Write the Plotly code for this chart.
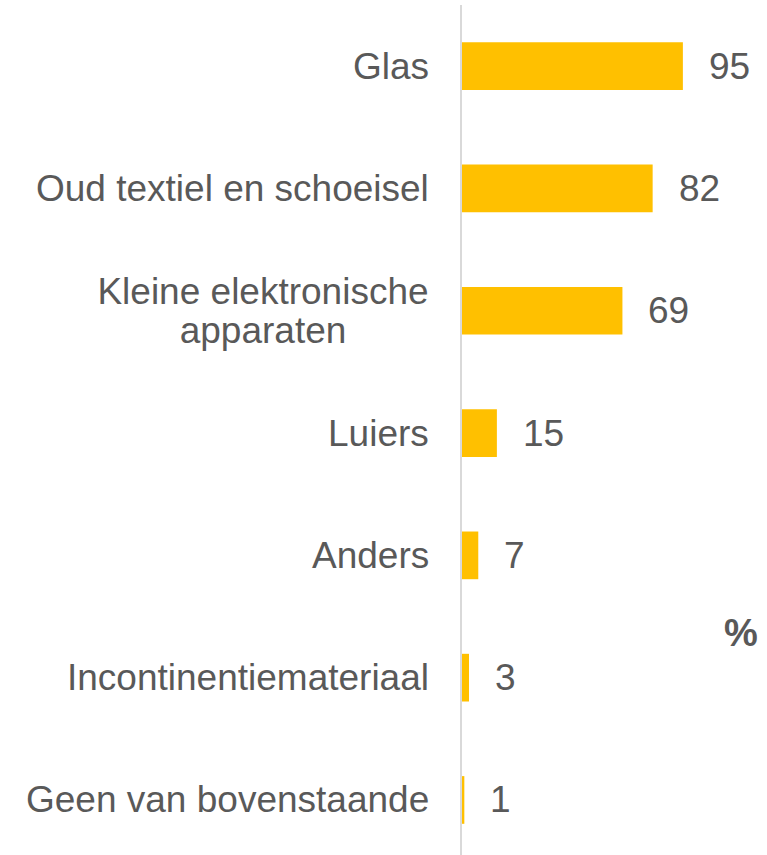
import plotly.graph_objects as go

CATEGORIES = ["Glas", "Oud textiel en schoeisel", "Kleine elektronische<br>apparaten",
              "Luiers", "Anders", "Incontinentiemateriaal", "Geen van bovenstaande"]
VALUES = [95, 82, 69, 15, 7, 3, 1]
UNIT = "%"

BAR, TEXT, AXIS = "#ffc000", "#595959", "#d9d9d9"
FONT = "Liberation Sans, Arial, sans-serif"
LINE_H = 39     # tighter line spacing than plotly's default for the wrapped label
WRAP_W = 334    # box width that the wrapped lines are centred in

fig = go.Figure(go.Bar(x=VALUES, y=CATEGORIES, orientation="h", width=0.39,
                       marker=dict(color=BAR, line_width=0), hoverinfo="skip"))

# category labels and value labels
for cat, val in zip(CATEGORIES, VALUES):
    lines = cat.split("<br>")
    if len(lines) == 1:
        fig.add_annotation(x=0, y=cat, text=cat, showarrow=False, xanchor="right",
                           yanchor="middle", xshift=-31,
                           font=dict(size=37, color=TEXT, family=FONT))
    else:
        # one annotation per line so the spacing can be tightened, centred in a shared box
        for i, ln in enumerate(lines):
            fig.add_annotation(x=0, y=cat, text=ln, showarrow=False, xanchor="right",
                               yanchor="middle", align="center", width=WRAP_W, xshift=-30,
                               yshift=((len(lines) - 1) / 2 - i) * LINE_H,
                               font=dict(size=37, color=TEXT, family=FONT))
    fig.add_annotation(x=val, y=cat, text=str(val), showarrow=False, xanchor="left",
                       yanchor="middle", xshift=24,
                       font=dict(size=37, color=TEXT, family=FONT))

fig.add_annotation(x=1.0, y=0.261, xref="paper", yref="paper", text=f"<b>{UNIT}</b>",
                   showarrow=False, xanchor="center", yanchor="middle",
                   font=dict(size=38, color=TEXT, family=FONT))

fig.update_layout(width=767, height=855, paper_bgcolor="white", plot_bgcolor="white",
                  margin=dict(l=462, r=26, t=5, b=0), showlegend=False,
                  font=dict(family=FONT, color=TEXT))
fig.update_xaxes(range=[0, 120], visible=False)
fig.update_yaxes(range=[6.45, -0.5], showticklabels=False, showgrid=False, zeroline=False,
                 showline=True, linecolor=AXIS, linewidth=2, ticks="")

fig.write_html("out.html", config={"displayModeBar": False},
               post_script="document.body.style.margin='0';")
